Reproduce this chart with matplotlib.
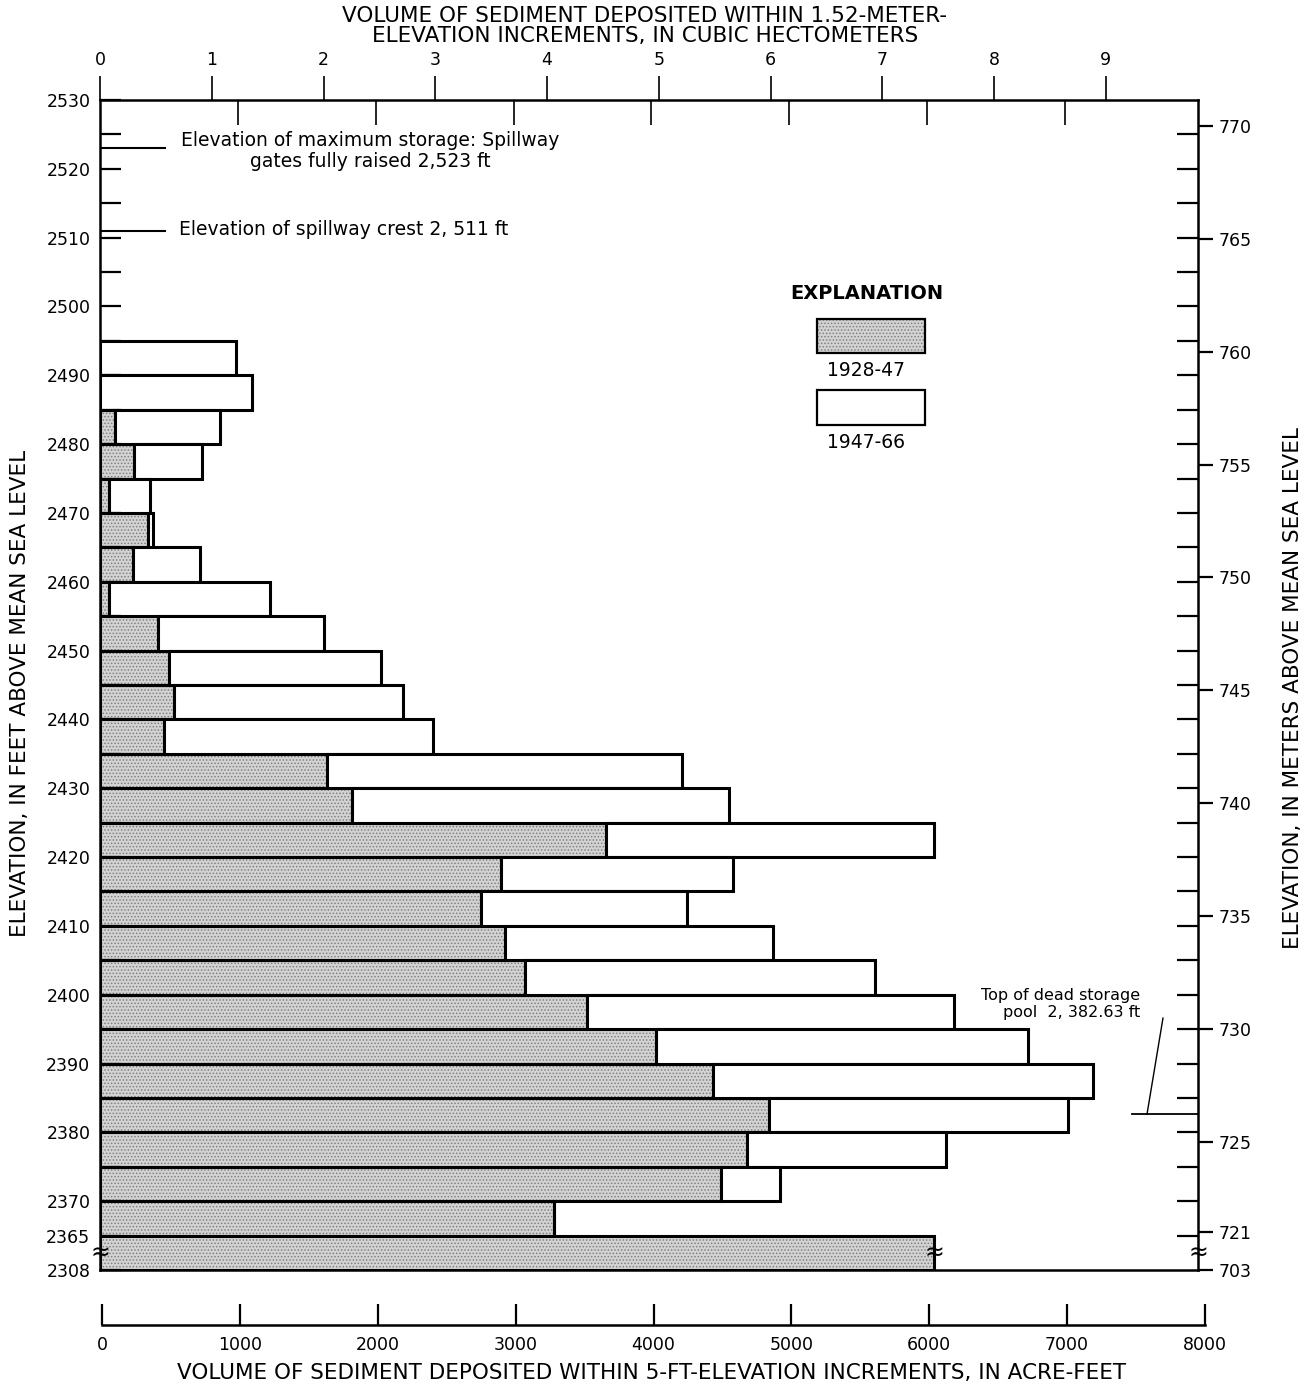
import matplotlib.pyplot as plt
import numpy as np

plt.rcParams['font.family'] = ['DejaVu Sans']
plt.rcParams['hatch.linewidth'] = 0.7

# bottom of each 5-ft elevation increment, feet
elev_bottom = [2490, 2485, 2480, 2475, 2470, 2465, 2460, 2455, 2450, 2445,
               2440, 2435, 2430, 2425, 2420, 2415, 2410, 2405, 2400, 2395,
               2390, 2385, 2380, 2375, 2370, 2365]
# sediment deposited 1928-47, acre-feet
vol_1928_47 = [0, 0, 110, 250, 65, 350, 240, 65, 420, 500,
               535, 465, 1650, 1830, 3670, 2910, 2765, 2940, 3085, 3535,
               4035, 4450, 4850, 4690, 4505, 3295]
# sediment deposited 1947-66, acre-feet
vol_1947_66 = [990, 1100, 760, 490, 300, 35, 485, 1170, 1205, 1540,
               1665, 1950, 2575, 2735, 2380, 1685, 1495, 1945, 2540, 2660,
               2700, 2750, 2175, 1450, 430, 0]
# lowest increment 2,308-2,365 ft (drawn across the scale break)
low_label = "2308"
low_1928_47 = 6050

feet_ticks = list(range(2530, 2369, -10)) + [2365]
meter_ticks = [770, 765, 760, 755, 750, 745, 740, 735, 730, 725, 721]
hm3_ticks = list(range(0, 10))
af_ticks = list(range(0, 8001, 1000))

AF_PER_HM3 = 810.71
FT_PER_M = 3.28084
BAR_H = 5
y_low = elev_bottom[-1] - BAR_H   # position of the broken bottom increment

W, H = 1312, 1387
fig = plt.figure(figsize=(W / 100, H / 100), dpi=100)


def box(x0, y0, x1, y1):
    return [x0 / W, 1 - y1 / H, (x1 - x0) / W, (y1 - y0) / H]


ax = fig.add_axes(box(100, 100, 1198, 1270))
ax.set_xlim(0, 7965)
ax.set_ylim(y_low, 2530)

stipple = dict(facecolor='#d3d3d3', edgecolor='#808080', hatch='.....', linewidth=0)
outline = dict(fill=False, edgecolor='black', linewidth=2.2)

ax.barh(elev_bottom, vol_1928_47, height=BAR_H, align='edge', **stipple)
ax.barh(elev_bottom, vol_1928_47, height=BAR_H, align='edge', **outline)
ax.barh(elev_bottom, vol_1947_66, left=vol_1928_47, height=BAR_H, align='edge',
        facecolor='white', edgecolor='black', linewidth=2.2)
ax.barh([y_low], [low_1928_47], height=BAR_H, align='edge', **stipple)
ax.barh([y_low], [low_1928_47], height=BAR_H, align='edge', **outline)

for s in ax.spines.values():
    s.set_linewidth(1.8)

TICK_FS = 12.5
LABEL_FS = 15.5

# left axis: feet
ax.set_yticks(feet_ticks + [y_low])
ax.set_yticklabels([str(t) for t in feet_ticks] + [low_label])
ax.set_yticks(np.arange(2365, 2530, 5), minor=True)
ax.tick_params(axis='y', which='both', direction='in', length=15, width=1.6,
               labelsize=TICK_FS, pad=7)
# top inner ticks at each 1000 acre-feet
ax.xaxis.set_ticks_position('top')
ax.set_xticks(af_ticks[1:8])
ax.tick_params(axis='x', direction='in', length=18, width=1.2, labeltop=False,
               labelbottom=False)

# top axis: cubic hectometers
top = ax.secondary_xaxis('top', functions=(lambda v: v / AF_PER_HM3,
                                           lambda v: v * AF_PER_HM3))
top.set_xticks(hm3_ticks)
top.tick_params(direction='out', length=17, width=1.2, labelsize=TICK_FS, pad=5)
top.spines['top'].set_visible(False)

# right axis: meters
axr = ax.twinx()
axr.set_ylim(ax.get_ylim())
axr.set_yticks([m * FT_PER_M for m in meter_ticks] + [y_low])
axr.set_yticklabels([str(m) for m in meter_ticks] + ['703'])
axr.set_yticks(np.arange(2365, 2530, 5), minor=True)
axr.tick_params(axis='y', which='major', direction='out', length=11, width=1.6,
                labelsize=TICK_FS, pad=4)
axr.tick_params(axis='y', which='minor', direction='in', length=15, width=1.6)
for s in axr.spines.values():
    s.set_visible(False)

# scale-break marks
for xb, tr in [(0, ax.get_yaxis_transform()), (1, ax.get_yaxis_transform()),
               (low_1928_47, ax.transData)]:
    ax.text(xb, y_low + 2.5, '\u2248', transform=tr, ha='center', va='center',
            fontsize=17, zorder=5)

# reference elevations
ax.plot([0, 470], [2523, 2523], color='black', lw=1.5)
ax.plot([0, 470], [2511, 2511], color='black', lw=1.5)
ax.text(1960, 2522.6, 'Elevation of maximum storage: Spillway\ngates fully raised 2,523 ft',
        ha='center', va='center', fontsize=13.5, linespacing=1.15)
ax.text(575, 2511.2, 'Elevation of spillway crest 2, 511 ft', ha='left', va='center',
        fontsize=13.5)
ax.plot([7485, 7965], [2382.63, 2382.63], color='black', lw=1.3, clip_on=False)
ax.plot([7595, 7711], [2382.63, 2396.6], color='black', lw=1.0)
ax.text(7545, 2398.6, 'Top of dead storage\npool  2, 382.63 ft', ha='right', va='center',
        fontsize=11.5, linespacing=1.15)

# explanation
ax.text(0.698, 0.835, 'EXPLANATION', transform=ax.transAxes, ha='center', va='center',
        fontsize=14, fontweight='bold')
ax.add_patch(plt.Rectangle((0.653, 0.784), 0.098, 0.029, transform=ax.transAxes,
                           **stipple))
ax.add_patch(plt.Rectangle((0.653, 0.784), 0.098, 0.029, transform=ax.transAxes,
                           fill=False, edgecolor='black', linewidth=1.6))
ax.text(0.698, 0.769, '1928-47', transform=ax.transAxes, ha='center', va='center',
        fontsize=13.5)
ax.add_patch(plt.Rectangle((0.653, 0.722), 0.098, 0.030, transform=ax.transAxes,
                           facecolor='white', edgecolor='black', linewidth=1.6))
ax.text(0.698, 0.707, '1947-66', transform=ax.transAxes, ha='center', va='center',
        fontsize=13.5)

# bottom axis: acre-feet
axb = fig.add_axes(box(102, 1300, 1205, 1325))
axb.set_xlim(0, 8000)
axb.set_ylim(0, 1)
for s in ['top', 'left', 'right']:
    axb.spines[s].set_visible(False)
axb.spines['bottom'].set_linewidth(1.8)
axb.set_yticks([])
axb.set_xticks(af_ticks)
axb.tick_params(axis='x', direction='in', length=15, width=1.6, labelsize=TICK_FS, pad=8)
axb.patch.set_alpha(0)

fig.text(652 / W, 1 - 1373 / H,
         'VOLUME OF SEDIMENT DEPOSITED WITHIN 5-FT-ELEVATION INCREMENTS, IN ACRE-FEET',
         ha='center', va='center', fontsize=LABEL_FS)
fig.text(645 / W, 1 - 26 / H,
         'VOLUME OF SEDIMENT DEPOSITED WITHIN 1.52-METER-\nELEVATION INCREMENTS, IN CUBIC HECTOMETERS',
         ha='center', va='center', fontsize=LABEL_FS, linespacing=1.0)
fig.text(20 / W, 1 - 693 / H, 'ELEVATION, IN FEET ABOVE MEAN SEA LEVEL',
         rotation=90, ha='center', va='center', fontsize=LABEL_FS)
fig.text(1293 / W, 1 - 688 / H, 'ELEVATION, IN METERS ABOVE MEAN SEA LEVEL',
         rotation=90, ha='center', va='center', fontsize=LABEL_FS)

fig.savefig('out.png', dpi=100)
